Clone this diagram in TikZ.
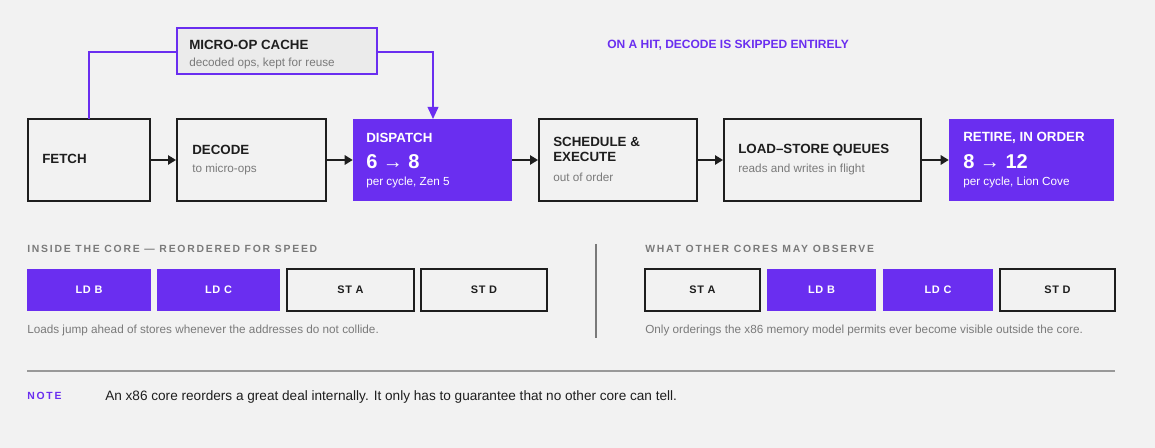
\documentclass[tikz,border=0pt]{standalone}
\usepackage{fontspec}
\setmainfont{Liberation Sans}
\usetikzlibrary{arrows.meta}
\definecolor{pur}{HTML}{6A2EF0}
\definecolor{bg}{HTML}{F2F2F2}
\definecolor{ink}{HTML}{1E1E1E}
\definecolor{gry}{HTML}{7A7A7A}
\begin{document}
\begin{tikzpicture}[x=0.75pt,y=-0.75pt,
  box/.style={draw=ink,line width=1.5pt,fill=bg,inner sep=0},
  pbox/.style={fill=pur,inner sep=0},
  ttl/.style={anchor=west,font=\bfseries\fontsize{10}{11}\selectfont,text=ink,inner sep=0},
  sub/.style={anchor=west,font=\fontsize{8.8}{10}\selectfont,text=gry,inner sep=0},
  wttl/.style={ttl,text=white},
  wsub/.style={sub,text=white},
  big/.style={anchor=west,font=\bfseries\fontsize{15}{16}\selectfont,text=white,inner sep=0},
  arr/.style={draw=ink,line width=1.3pt,-{Triangle[length=6pt,width=7pt]}},
  hcap/.style={anchor=west,font=\bfseries\fontsize{7.8}{9}\selectfont\addfontfeature{LetterSpace=17},text=gry,inner sep=0},
  cell/.style={minimum width=#1*0.75pt,minimum height=42*0.75pt,font=\bfseries\fontsize{8.2}{9}\selectfont\addfontfeature{LetterSpace=6}},
]
\fill[bg] (0,0) rectangle (1155,448);
\useasboundingbox (0,0) rectangle (1155,448);
% pipeline boxes
\node[box,minimum width=122*0.75pt,minimum height=82*0.75pt] (fetch) at (89,160) {};
\node[box,minimum width=149*0.75pt,minimum height=82*0.75pt] (decode) at (251.5,160) {};
\node[pbox,minimum width=159*0.75pt,minimum height=82*0.75pt] (disp) at (432.5,160) {};
\node[box,minimum width=158*0.75pt,minimum height=82*0.75pt] (sched) at (618,160) {};
\node[box,minimum width=197*0.75pt,minimum height=82*0.75pt] (lsq) at (822.5,160) {};
\node[pbox,minimum width=165*0.75pt,minimum height=82*0.75pt] (ret) at (1031.5,160) {};
\node[ttl] (tf) at (42,159) {FETCH};
\node[ttl] (td) at (192,150) {DECODE};
\node[sub] (sd) at (192,169) {to micro-ops};
\node[wttl] (tdi) at (366,138) {DISPATCH};
\node[big] (bdi) at (366,162) {6 → 8};
\node[wsub] (sdi) at (366,182) {per cycle, Zen 5};
\node[ttl] (ts1) at (553,142) {SCHEDULE \&};
\node[ttl] (ts2) at (553,157) {EXECUTE};
\node[sub] (ss) at (553,177) {out of order};
\node[ttl] (tl) at (738,150) {LOAD–STORE QUEUES};
\node[sub] (sl) at (738,169) {reads and writes in flight};
\node[wttl] (tr) at (963,138) {RETIRE, IN ORDER};
\node[big] (br) at (963,162) {8 → 12};
\node[wsub] (sr) at (963,182) {per cycle, Lion Cove};
\draw[arr] (fetch) -- (decode);
\draw[arr] (decode) -- (disp);
\draw[arr] (disp) -- (sched);
\draw[arr] (sched) -- (lsq);
\draw[arr] (lsq) -- (ret);
% micro-op cache
\node[draw=pur,line width=1.3pt,fill=black!8,minimum width=200*0.75pt,minimum height=46*0.75pt,inner sep=0] (uc) at (277,51) {};
\node[ttl] (tu) at (189,45) {MICRO-OP CACHE};
\node[sub] (su) at (189,63) {decoded ops, kept for reuse};
\coordinate (fu) at (89,119);
\draw[pur,line width=1.3pt] (fu) |- (uc.west|-0,52);
\draw[pur,line width=1.3pt,-{Triangle[length=9pt,width=8pt]}] (uc.east|-0,52) -| (433,119);
\node[anchor=west,inner sep=0,font=\bfseries\fontsize{9}{10}\selectfont,text=pur] (hit) at (607,45) {ON A HIT, DECODE IS SKIPPED ENTIRELY};
% bottom left
\node[hcap] (hl) at (27,249) {INSIDE THE CORE — REORDERED FOR SPEED};
\node[pbox,cell=124,text=white] (lb1) at (89,290) {LD B};
\node[pbox,cell=123,text=white] (lc1) at (218.5,290) {LD C};
\node[box,cell=127,text=ink] (sa1) at (350.5,290) {ST A};
\node[box,cell=126,text=ink] (sd1) at (484,290) {ST D};
\node[sub] (cl) at (27,330) {Loads jump ahead of stores whenever the addresses do not collide.};
\draw[gry,line width=1.2pt] (596,244) -- (596,338);
% bottom right
\node[hcap] (hr) at (645,249) {WHAT OTHER CORES MAY OBSERVE};
\node[box,cell=115,text=ink] (sa2) at (702.5,290) {ST A};
\node[pbox,cell=109,text=white] (lb2) at (821.5,290) {LD B};
\node[pbox,cell=110,text=white] (lc2) at (938,290) {LD C};
\node[box,cell=115,text=ink] (sd2) at (1057.5,290) {ST D};
\node[sub] (cr) at (645,330) {Only orderings the x86 memory model permits ever become visible outside the core.};
% note
\draw[black!40,line width=1.5pt] (27,371) -- (1115,371);
\node[hcap,text=pur] (nt) at (27,396) {NOTE};
\node[anchor=west,inner sep=0,font=\fontsize{10.2}{11}\selectfont,text=ink] (ntx) at (105,397) {An x86 core reorders a great deal internally. It only has to guarantee that no other core can tell.};
\end{tikzpicture}
\end{document}
